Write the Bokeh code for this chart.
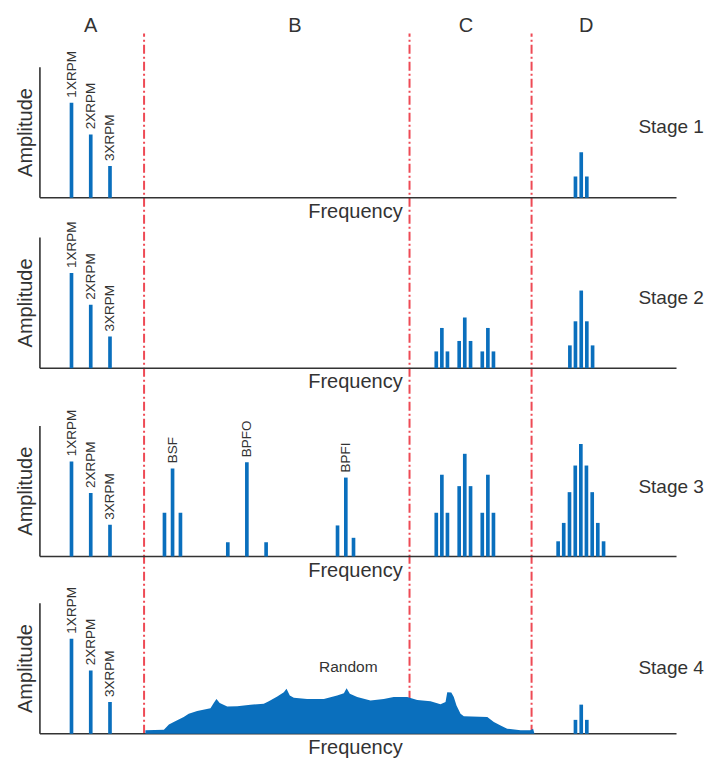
import math
from bokeh.plotting import figure
from bokeh.models import Range1d
from bokeh.embed import file_html
from bokeh.resources import INLINE
from bokeh.core.properties import value

# ---------------- data (frequency in orders of RPM, amplitude arbitrary) ----------------
rpm_freq = [1.0, 2.0, 3.0]
rpm_amp = [3.0, 2.0, 1.0]
rpm_labels = ["1XRPM", "2XRPM", "3XRPM"]

bsf_freq = [5.83, 6.25, 6.66]
bsf_amp = [1.38, 2.78, 1.38]
bpfo_freq = [9.12, 10.11, 11.11]
bpfo_amp = [0.45, 2.97, 0.45]
bpfi_freq = [14.82, 15.25, 15.65]
bpfi_amp = [0.98, 2.49, 0.59]
b_labels = ["BSF", "BPFO", "BPFI"]

c_freq = [19.95, 20.24, 20.53, 21.14, 21.43, 21.73, 22.34, 22.63, 22.92]
c_amp_stage2 = [0.53, 1.27, 0.53, 0.86, 1.60, 0.86, 0.53, 1.27, 0.53]
c_amp_stage3 = [1.38, 2.58, 1.38, 2.22, 3.24, 2.22, 1.38, 2.58, 1.38]

d_freq_3 = [27.18, 27.48, 27.77]
d_amp_stage1 = [0.67, 1.44, 0.67]
d_amp_stage4 = [0.44, 0.92, 0.44]
d_freq_5 = [26.89, 27.18, 27.48, 27.77, 28.07]
d_amp_stage2 = [0.72, 1.48, 2.45, 1.48, 0.72]
d_freq_9 = [26.28, 26.57, 26.87, 27.17, 27.46, 27.75, 28.05, 28.34, 28.64]
d_amp_stage3 = [0.48, 1.06, 2.03, 2.87, 3.55, 2.87, 2.03, 1.06, 0.48]

random_freq = [4.84, 5.80, 6.06, 6.31, 6.83, 7.09, 7.53, 8.22, 8.39, 8.53,
               8.70, 9.09, 9.61, 10.30, 10.99, 11.25, 11.69, 12.03, 12.17, 12.34,
               12.55, 13.24, 14.11, 14.80, 15.15, 15.29, 15.46, 15.84, 16.53, 17.22,
               17.74, 18.44, 18.96, 19.65, 20.17, 20.43, 20.52, 20.73, 20.86, 21.00,
               21.21, 21.38, 22.60, 22.94, 23.29, 23.63, 24.33, 24.84, 24.98, 25.05]
random_amp = [0.11, 0.13, 0.29, 0.37, 0.53, 0.63, 0.72, 0.81, 0.97, 1.10,
              0.97, 0.86, 0.87, 0.92, 0.95, 1.03, 1.18, 1.31, 1.42, 1.21,
              1.14, 1.10, 1.10, 1.21, 1.28, 1.44, 1.26, 1.16, 1.05, 1.10,
              1.16, 1.16, 1.07, 1.03, 0.93, 1.00, 1.31, 1.30, 1.16, 0.89,
              0.63, 0.55, 0.53, 0.37, 0.26, 0.16, 0.11, 0.11, 0.16, 0.0]

zone_bounds = [4.77, 18.56, 24.90]
zone_labels = ["A", "B", "C", "D"]
zone_label_freq = [1.99, 12.60, 21.49, 27.74]
stage_labels = ["Stage 1", "Stage 2", "Stage 3", "Stage 4"]

# ---------------- layout ----------------
W, H = 710, 758
stage_base = [17.688, 12.312, 6.372, 0.779]
AXIS_X0, AXIS_X1 = -0.64, 32.43
AXIS_H = 4.12
BAR_W = 0.19
BLUE = "#0a6fbd"
RED = "#ee4a55"
INK = "#333333"
FONT = value("Liberation Sans")
UP = 0.25  # baseline correction for horizontal text

p = figure(width=W, height=H, x_range=Range1d(-2.688, 34.195), y_range=Range1d(0.0, 23.912),
           output_backend="svg", toolbar_location=None, x_axis_location=None,
           y_axis_location=None, min_border=0, outline_line_color=None)
p.xgrid.grid_line_color = None
p.ygrid.grid_line_color = None
p.background_fill_color = "white"
p.border_fill_color = "white"

# zone separators
p.segment(x0=zone_bounds, y0=[stage_base[3]] * 3, x1=zone_bounds, y1=[22.87] * 3,
          line_color=RED, line_width=2, line_dash="9 3 2 3")

# axes
for b in stage_base:
    p.segment(x0=[AXIS_X0, AXIS_X0], y0=[b, b], x1=[AXIS_X1, AXIS_X0], y1=[b, b + AXIS_H],
              line_color=INK, line_width=1.6)


def bars(freqs, amps, base):
    p.vbar(x=freqs, top=[base + a for a in amps], bottom=base, width=BAR_W,
           fill_color=BLUE, line_color=None)


# RPM harmonics in every stage
for b in stage_base:
    bars(rpm_freq, rpm_amp, b)
    p.text(x=rpm_freq, y=[b + a + 0.16 for a in rpm_amp], text=rpm_labels, angle=math.pi / 2,
           text_align="left", text_baseline="middle", text_font=FONT,
           text_font_size=value("13.5px"), text_color=INK)

# Stage 1
bars(d_freq_3, d_amp_stage1, stage_base[0])
# Stage 2
bars(c_freq, c_amp_stage2, stage_base[1])
bars(d_freq_5, d_amp_stage2, stage_base[1])
# Stage 3
b3 = stage_base[2]
for fr, am in ((bsf_freq, bsf_amp), (bpfo_freq, bpfo_amp), (bpfi_freq, bpfi_amp)):
    bars(fr, am, b3)
p.text(x=[bsf_freq[1], bpfo_freq[1], bpfi_freq[1]],
       y=[b3 + bsf_amp[1] + 0.16, b3 + bpfo_amp[1] + 0.16, b3 + bpfi_amp[1] + 0.16],
       text=b_labels, angle=math.pi / 2, text_align="left", text_baseline="middle",
       text_font=FONT, text_font_size=value("13.5px"), text_color=INK)
bars(c_freq, c_amp_stage3, b3)
bars(d_freq_9, d_amp_stage3, b3)
# Stage 4
b4 = stage_base[3]
p.varea(x=random_freq, y1=[b4] * len(random_freq), y2=[b4 + a for a in random_amp],
        fill_color=BLUE)
bars(d_freq_3, d_amp_stage4, b4)
p.text(x=[15.38], y=[b4 + 1.86 + UP], text=["Random"], text_align="center",
       text_baseline="alphabetic", text_font=FONT, text_font_size=value("15.5px"),
       text_color=INK)

# labels
stage_label_off = [1.99, 1.98, 1.96, 1.83]
p.text(x=[30.45] * 4, y=[b + o + UP for b, o in zip(stage_base, stage_label_off)],
       text=stage_labels, text_align="left", text_baseline="alphabetic", text_font=FONT,
       text_font_size=value("19px"), text_color=INK)
p.text(x=[15.75] * 4, y=[b - 0.662 + UP for b in stage_base], text=["Frequency"] * 4,
       text_align="center", text_baseline="alphabetic", text_font=FONT,
       text_font_size=value("20px"), text_color=INK)
p.text(x=[-1.43] * 4, y=[b + 2.06 for b in stage_base], text=["Amplitude"] * 4,
       angle=math.pi / 2, text_align="center", text_baseline="alphabetic", text_font=FONT,
       text_font_size=value("20px"), text_color=INK)
p.text(x=zone_label_freq, y=[22.893 + UP] * 4, text=zone_labels, text_align="center",
       text_baseline="alphabetic", text_font=FONT, text_font_size=value("20px"),
       text_color=INK)

open("out.html", "w").write(file_html(p, INLINE))
